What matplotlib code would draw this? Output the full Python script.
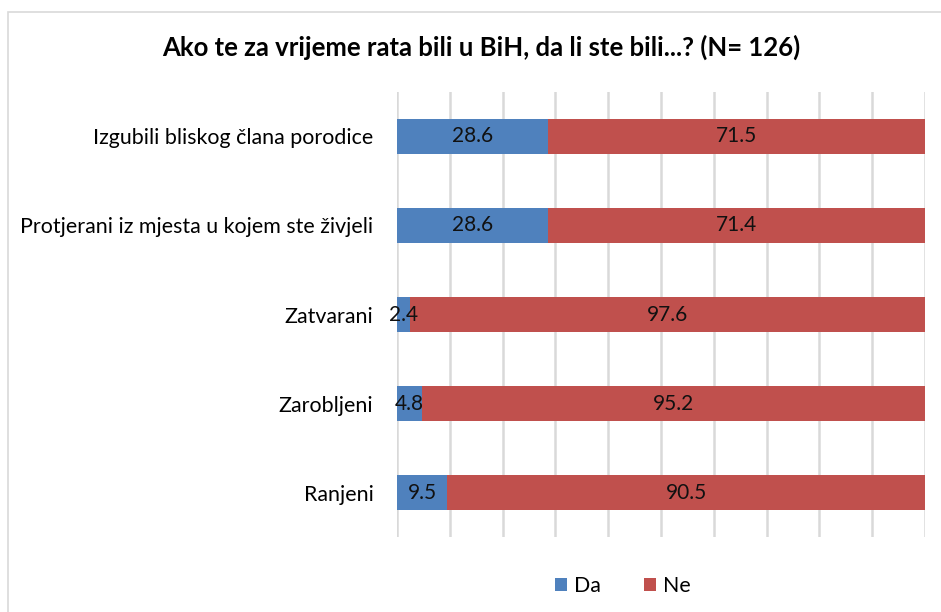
import matplotlib
matplotlib.use('Agg')
import matplotlib.pyplot as plt
from matplotlib.patches import Rectangle

plt.rcParams['font.family'] = ['Lato', 'DejaVu Sans']

categories = ["Izgubili bliskog člana porodice",
              "Protjerani iz mjesta u kojem ste živjeli",
              "Zatvarani",
              "Zarobljeni",
              "Ranjeni"]
da = [28.6, 28.6, 2.4, 4.8, 9.5]
ne = [71.5, 71.4, 97.6, 95.2, 90.5]
title = "Ako te za vrijeme rata bili u BiH, da li ste bili...? (N= 126)"

blue = '#4F81BD'
red = '#C0504D'

fig = plt.figure(figsize=(9.41, 6.12), dpi=100)
ax = fig.add_axes([0.4219, 0.1225, 0.561, 0.7272])

# okvir grafikona
fig.patches.append(Rectangle((8 / 941, -0.1), 1.0, 1 - 12 / 612 + 0.1,
                             transform=fig.transFigure, fill=False,
                             edgecolor='#d9d9d9', linewidth=1.2))

ypos = list(range(len(categories)))
b1 = ax.barh(ypos, da, height=0.4, color=blue, zorder=3)
b2 = ax.barh(ypos, ne, left=da, height=0.4, color=red, zorder=3)

for rects, vals in ((b1, da), (b2, ne)):
    for r, v in zip(rects, vals):
        ax.text(r.get_x() + r.get_width() / 2, r.get_y() + r.get_height() / 2,
                f"{v:.1f}", ha='center', va='center', fontsize=15,
                color='#111111', zorder=4)

ax.set_xlim(0, 100)
ax.set_ylim(len(categories) - 0.5, -0.5)
ax.set_xticks(range(0, 101, 10))
ax.set_xticklabels([])
ax.tick_params(axis='x', length=0)
ax.set_yticks(ypos)
ax.set_yticklabels(categories, fontsize=15.4)
ax.tick_params(axis='y', length=0, pad=17)
ax.grid(axis='x', color='#d9d9d9', linewidth=1.8, zorder=0)
for s in ax.spines.values():
    s.set_visible(False)

fig.text(481 / 941, 1 - 47 / 612, title, ha='center', va='center',
         fontsize=18.5, fontweight='bold')

leg = fig.legend([b1, b2], ['Da', 'Ne'], loc='center',
                 bbox_to_anchor=(623 / 941, 1 - 586 / 612), ncol=2,
                 frameon=False, fontsize=15.4, handlelength=0.55,
                 handleheight=0.55, columnspacing=2.0, handletextpad=0.35)

fig.savefig('out.png', dpi=100)
